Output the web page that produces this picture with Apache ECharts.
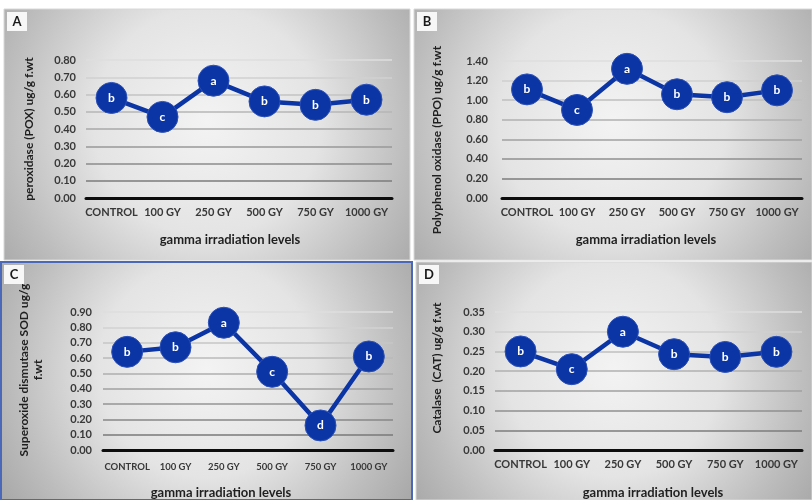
<!DOCTYPE html>
<html>
<head>
<meta charset="utf-8">
<script src="https://cdn.jsdelivr.net/npm/echarts@6/dist/echarts.min.js"></script>
<style>
  html, body { margin: 0; padding: 0; background: #ffffff; }
  #chart { width: 812px; height: 500px; }
</style>
</head>
<body>
<div id="chart"></div>
<script>
// Gamma irradiation treatments (shared x axis)
const categories = ['CONTROL', '100 GY', '250 GY', '500 GY', '750 GY', '1000 GY'];

// A: peroxidase (POX)
const poxValues = [0.58, 0.47, 0.68, 0.56, 0.54, 0.57];
const poxLetters = ['b', 'c', 'a', 'b', 'b', 'b'];

// B: polyphenol oxidase (PPO)
const ppoValues = [1.11, 0.90, 1.32, 1.06, 1.03, 1.10];
const ppoLetters = ['b', 'c', 'a', 'b', 'b', 'b'];

// C: superoxide dismutase (SOD)
const sodValues = [0.64, 0.67, 0.83, 0.51, 0.16, 0.61];
const sodLetters = ['b', 'b', 'a', 'c', 'd', 'b'];

// D: catalase (CAT)
const catValues = [0.25, 0.205, 0.30, 0.243, 0.236, 0.249];
const catLetters = ['b', 'c', 'a', 'b', 'b', 'b'];

const FONT = 'Lato, "Open Sans", sans-serif';
const BLUE = '#0b35a5';

// panel layouts
const panels = [
  { key: 'A', box: [4, 9, 406, 251], grid: { left: 86, top: 60, width: 306, height: 138 },
    max: 0.8, interval: 0.1, values: poxValues, letters: poxLetters, yMargin: 10, xMargin: 9, xFont: 11,
    yTitle: 'peroxidase (POX) ug/g f.wt', yTitlePos: [29, 129], xTitlePos: [230, 240] },
  { key: 'B', box: [414, 9, 398, 251], grid: { left: 502, top: 61, width: 300, height: 137 },
    max: 1.4, interval: 0.2, values: ppoValues, letters: ppoLetters, yMargin: 14, xMargin: 9, xFont: 11,
    yTitle: 'Polyphenol oxidase (PPO) ug/g f.wt', yTitlePos: [437, 140], xTitlePos: [646, 240] },
  { key: 'C', box: [1, 262, 411, 238], grid: { left: 103, top: 312, width: 290, height: 138 },
    max: 0.9, interval: 0.1, values: sodValues, letters: sodLetters, yMargin: 11, xMargin: 12, xFont: 9.5,
    yTitle: 'Superoxide dismutase SOD ug/g\nf.wt', yTitlePos: [31, 370], xTitlePos: [221, 493] },
  { key: 'D', box: [416, 262, 396, 238], grid: { left: 495, top: 312, width: 307, height: 138 },
    max: 0.35, interval: 0.05, values: catValues, letters: catLetters, yMargin: 10, xMargin: 9, xFont: 11,
    yTitle: 'Catalase  (CAT) ug/g f.wt', yTitlePos: [437, 368], xTitlePos: [653, 493] }
];

// gridlines fade from dark at the bottom to light at the top
function gridColors(n) {
  const out = [];
  for (let i = 0; i <= n; i++) {
    const t = i / n;
    const v = Math.round(105 + (222 - 105) * Math.pow(t, 0.9));
    out.push('rgb(' + v + ',' + v + ',' + v + ')');
  }
  return out;
}

const grids = [], xAxes = [], yAxes = [], series = [], graphics = [];

panels.forEach((p, i) => {
  const [bx, by, bw, bh] = p.box;
  graphics.push({
    type: 'rect', z: -10,
    shape: { x: bx, y: by, width: bw, height: bh },
    style: {
      fill: {
        type: 'radial', x: 0.5, y: 0.45, r: 1.0,
        colorStops: [
          { offset: 0, color: '#f3f3f3' },
          { offset: 0.45, color: '#e4e4e4' },
          { offset: 0.8, color: '#bdbdbd' },
          { offset: 1, color: '#a9a9a9' }
        ]
      },
      stroke: p.key === 'C' ? '#4a67b8' : '#d8d8d8',
      lineWidth: p.key === 'C' ? 2 : 1
    }
  });
  // panel letter tag
  graphics.push({
    type: 'rect', z: -5,
    shape: { x: bx + 3, y: by + 3, width: 20, height: 19 },
    style: { fill: '#f7f7f7' }
  });
  graphics.push({
    type: 'text', z: -4, x: bx + 13, y: by + 13,
    style: { text: p.key, fontFamily: FONT, fontWeight: 'bold', fontSize: 13, fill: '#1a1a1a', align: 'center', verticalAlign: 'middle' }
  });
  // axis titles
  graphics.push({
    type: 'text', x: p.yTitlePos[0], y: p.yTitlePos[1], rotation: Math.PI / 2,
    style: { text: p.yTitle, fontFamily: FONT, fontWeight: 'bold', fontSize: 12, fill: '#1f1f1f', align: 'center', verticalAlign: 'middle', lineHeight: 14 }
  });
  graphics.push({
    type: 'text', x: p.xTitlePos[0], y: p.xTitlePos[1],
    style: { text: 'gamma irradiation levels', fontFamily: FONT, fontWeight: 'bold', fontSize: 13, fill: '#1f1f1f', align: 'center', verticalAlign: 'middle' }
  });

  grids.push(Object.assign({ containLabel: false }, p.grid));
  xAxes.push({
    type: 'category', gridIndex: i, data: categories, boundaryGap: true,
    axisLine: { lineStyle: { color: '#0d0d0d', width: 3 } },
    axisTick: { show: false },
    axisLabel: { color: '#383838', fontFamily: FONT, fontWeight: 'bold', fontSize: p.xFont, margin: p.xMargin, interval: 0 }
  });
  const nLines = Math.round(p.max / p.interval);
  yAxes.push({
    type: 'value', gridIndex: i, min: 0, max: p.max, interval: p.interval,
    axisLine: { show: false }, axisTick: { show: false },
    axisLabel: {
      color: '#383838', fontFamily: FONT, fontWeight: 'bold', fontSize: 11, margin: p.yMargin,
      formatter: v => v.toFixed(2)
    },
    splitLine: { lineStyle: { color: gridColors(nLines), width: 1.5 } }
  });
  series.push({
    type: 'line', xAxisIndex: i, yAxisIndex: i,
    data: p.values.map((v, k) => ({ value: v, letter: p.letters[k] })),
    symbol: 'circle', symbolSize: 31,
    lineStyle: { color: BLUE, width: 4.5 },
    itemStyle: { color: BLUE, borderColor: '#2a4fb8', borderWidth: 1 },
    label: {
      show: true, position: 'inside', color: '#ffffff', fontFamily: FONT, fontWeight: 'bold', fontSize: 12,
      formatter: prm => prm.data.letter
    },
    emphasis: { disabled: true },
    animation: false, z: 3
  });
});

const chart = echarts.init(document.getElementById('chart'), null, { renderer: 'canvas' });
chart.setOption({
  animation: false,
  backgroundColor: '#ffffff',
  grid: grids, xAxis: xAxes, yAxis: yAxes, series: series,
  graphic: { elements: graphics }
});
</script>
</body>
</html>
